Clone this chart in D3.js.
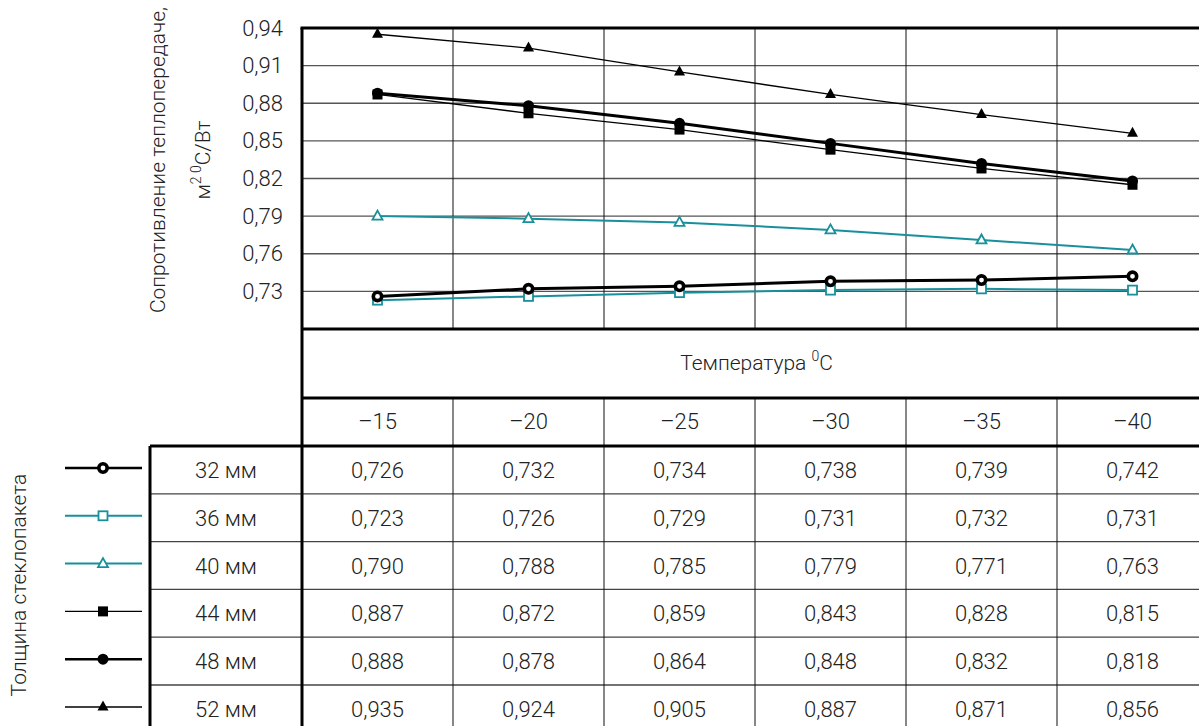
<!DOCTYPE html>
<html><head><meta charset="utf-8">
<script src="https://cdn.jsdelivr.net/npm/d3@7"></script>
<style>
html,body{margin:0;padding:0;background:#fff;}
text{font-family:Roboto,"DejaVu Sans Condensed",sans-serif;font-weight:300;fill:#222;}
</style></head>
<body><svg id="c" width="1199" height="726"></svg>
<script>
const temps = ["–15","–20","–25","–30","–35","–40"];
const seriesNames = ["32 мм","36 мм","40 мм","44 мм","48 мм","52 мм"];
const s32 = [0.726,0.732,0.734,0.738,0.739,0.742];
const s36 = [0.723,0.726,0.729,0.731,0.732,0.731];
const s40 = [0.790,0.788,0.785,0.779,0.771,0.763];
const s44 = [0.887,0.872,0.859,0.843,0.828,0.815];
const s48 = [0.888,0.878,0.864,0.848,0.832,0.818];
const s52 = [0.935,0.924,0.905,0.887,0.871,0.856];
const yTicks = [0.73,0.76,0.79,0.82,0.85,0.88,0.91,0.94];

const teal = "#17909c";
const styles = [
  {color:"#000", w:3,   marker:"ringcircle"},
  {color:teal,   w:2,   marker:"opensquare"},
  {color:teal,   w:2,   marker:"opentriangle"},
  {color:"#000", w:1.3, marker:"square"},
  {color:"#000", w:3,   marker:"circle"},
  {color:"#000", w:1.3, marker:"triangle"}
];
const allSeries = [s32,s36,s40,s44,s48,s52];

const svg = d3.select("#c");
const L = 302, R = 1208, T = 28, B = 329;
const x = d3.scaleBand().domain(temps).range([L, R]);
const y = d3.scaleLinear().domain([0.70, 0.94]).range([B, T]);
const fmt = v => d3.format(".2f")(v).replace(".", ",");
const fmt3 = v => d3.format(".3f")(v).replace(".", ",");
const FS = 22;

// horizontal gridlines
svg.append("g").selectAll("line").data(yTicks.slice(0,-1)).join("line")
  .attr("x1", L).attr("x2", 1199).attr("y1", d=>y(d)).attr("y2", d=>y(d))
  .attr("stroke", "#555").attr("stroke-width", 1.3);
// vertical lines in plot
svg.append("g").selectAll("line").data(temps.slice(1)).join("line")
  .attr("x1", d=>x(d)).attr("x2", d=>x(d)).attr("y1", T).attr("y2", B)
  .attr("stroke", "#111").attr("stroke-width", 1);

// y axis via d3
const yAxis = d3.axisLeft(y).tickValues(yTicks).tickFormat(fmt).tickSize(0).tickPadding(19);
const ga = svg.append("g").attr("transform", `translate(${L},0)`).call(yAxis);
ga.select(".domain").remove();
ga.selectAll("text").attr("font-size", FS).attr("font-family", "Roboto, sans-serif").attr("font-weight", 300).attr("fill", "#222");

// series
function marker(g, type, color, cx, cy) {
  if (type === "ringcircle") {
    g.append("circle").attr("cx",cx).attr("cy",cy).attr("r",4.2).attr("fill","#fff").attr("stroke",color).attr("stroke-width",3.6);
  }
  else if (type === "circle") g.append("circle").attr("cx",cx).attr("cy",cy).attr("r",5.5).attr("fill",color);
  else if (type === "opensquare") g.append("rect").attr("x",cx-4.5).attr("y",cy-4.5).attr("width",9).attr("height",9).attr("fill","#fff").attr("stroke",color).attr("stroke-width",1.8);
  else if (type === "square") g.append("rect").attr("x",cx-5).attr("y",cy-5).attr("width",10).attr("height",10).attr("fill",color);
  else if (type === "opentriangle") g.append("path").attr("d",`M${cx},${cy-5.5}L${cx+5},${cy+3.5}L${cx-5},${cy+3.5}Z`).attr("fill","#fff").attr("stroke",color).attr("stroke-width",1.8);
  else if (type === "triangle") g.append("path").attr("d",`M${cx},${cy-6.5}L${cx+5.5},${cy+3.5}L${cx-5.5},${cy+3.5}Z`).attr("fill",color);
}
const line = d3.line().x((d,i)=>x(temps[i]) + x.bandwidth()/2).y(d=>y(d));
const order = [1,0,2,3,5,4];
order.forEach(k => {
  const st = styles[k], data = allSeries[k];
  const g = svg.append("g");
  g.append("path").datum(data).attr("d", line).attr("fill","none").attr("stroke", st.color).attr("stroke-width", st.w);
  data.forEach((v,i) => marker(g, st.marker, st.color, x(temps[i]) + x.bandwidth()/2, y(v)));
});

// table
const rowTop = 446, rowH = 47.8;
const rows = d3.range(seriesNames.length);
// header temperature row
const ht = svg.append("text").attr("x", (L+1199)/2 + 6).attr("y", 370).attr("text-anchor","middle").attr("font-size", 21);
ht.append("tspan").text("Температура ");
ht.append("tspan").attr("font-size", 14).attr("dy", -9).text("0");
ht.append("tspan").attr("dy", 9).text("C");
// temperature tick row
svg.append("g").selectAll("text").data(temps).join("text")
  .attr("x", d=>x(d)+x.bandwidth()/2).attr("y", 429).attr("text-anchor","middle").attr("font-size", FS).text(d=>d);
// row lines
svg.append("g").selectAll("line").data(rows.slice(1)).join("line")
  .attr("x1",150).attr("x2",1199).attr("y1",d=>rowTop + d*rowH).attr("y2",d=>rowTop + d*rowH)
  .attr("stroke","#444").attr("stroke-width",1.3);
// vertical lines in table
svg.append("g").selectAll("line").data(temps.slice(1)).join("line")
  .attr("x1", d=>x(d)).attr("x2", d=>x(d)).attr("y1", 398).attr("y2", 726)
  .attr("stroke", "#111").attr("stroke-width", 1);
// values
rows.forEach(r => {
  svg.append("g").selectAll("text").data(allSeries[r]).join("text")
    .attr("x", (d,i)=>x(temps[i])+x.bandwidth()/2).attr("y", rowTop + r*rowH + 32)
    .attr("text-anchor","middle").attr("font-size", FS).text(d=>fmt3(d));
  svg.append("text").attr("x", 226).attr("y", rowTop + r*rowH + 32).attr("text-anchor","middle").attr("font-size", FS).text(seriesNames[r]);
  const st = styles[r], cy = rowTop + r*rowH + 22;
  const lg = svg.append("g");
  lg.append("line").attr("x1",65).attr("x2",142).attr("y1",cy).attr("y2",cy).attr("stroke",st.color).attr("stroke-width", Math.min(st.w, 2.6));
  marker(lg, st.marker, st.color, 103, cy);
});

// thick borders
const thick = (x1,y1,x2,y2,w=3) => svg.append("line").attr("x1",x1).attr("y1",y1).attr("x2",x2).attr("y2",y2).attr("stroke","#000").attr("stroke-width",w);
thick(L-1.5, T, 1199, T);
thick(L, T, L, 726);
thick(L, B, 1199, B);
thick(L, 398, 1199, 398);
thick(150, 446, 1199, 446);
thick(150, 446, 150, 726);

// axis titles
svg.append("text").attr("transform","translate(165,160) rotate(-90)").attr("text-anchor","middle").attr("font-size",21)
  .text("Сопротивление теплопередаче,");
const t2 = svg.append("text").attr("transform","translate(210,160) rotate(-90)").attr("text-anchor","middle").attr("font-size",21);
t2.append("tspan").text("м");
t2.append("tspan").attr("font-size",14).attr("dy",-9).text("2 0");
t2.append("tspan").attr("dy",9).text("C/Вт");
svg.append("text").attr("transform","translate(26,585) rotate(-90)").attr("text-anchor","middle").attr("font-size",21)
  .text("Толщина стеклопакета");
</script></body></html>
